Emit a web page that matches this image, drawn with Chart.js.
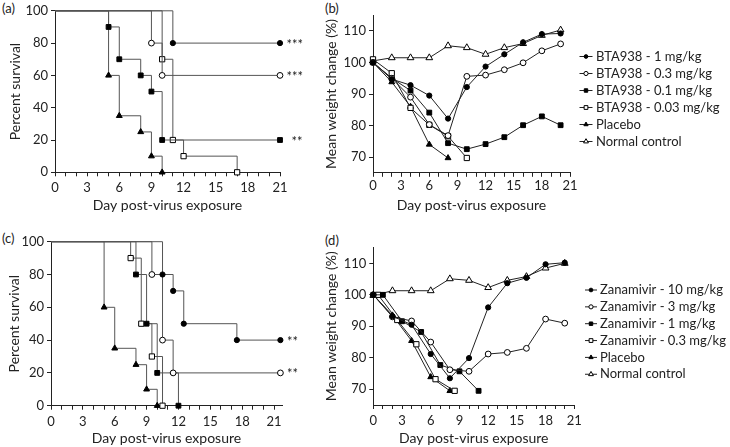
<!DOCTYPE html>
<html>
<head>
<meta charset="utf-8">
<script src="https://cdn.jsdelivr.net/npm/chart.js@4.4.0/dist/chart.umd.min.js"></script>
<style>
  body { margin: 0; background: #fff; }
  #wrap { position: relative; width: 730px; height: 447px; font-family: Lato, sans-serif; color: #222; }
  canvas { position: absolute; }
  .tag { position: absolute; font-size: 13px; line-height: 16px; }
</style>
</head>
<body>
<div id="wrap">
  <div class="tag" style="left:2px;top:0px">(a)</div>
  <div class="tag" style="left:325px;top:0px">(b)</div>
  <div class="tag" style="left:2px;top:230px">(c)</div>
  <div class="tag" style="left:325px;top:232px">(d)</div>
  <canvas id="chart-a" width="318" height="218" style="left:0px;top:0px"></canvas>
  <canvas id="chart-b" width="412" height="218" style="left:318px;top:0px"></canvas>
  <canvas id="chart-c" width="318" height="219" style="left:0px;top:228px"></canvas>
  <canvas id="chart-d" width="412" height="219" style="left:318px;top:228px"></canvas>
</div>
<script>
// ticks
var dayTicks = [0, 1, 2, 3, 4, 5, 6, 7, 8, 9, 10, 11, 12, 13, 14, 15, 16, 17, 18, 19, 20, 21];
var dayLabels = [0, 3, 6, 9, 12, 15, 18, 21];
var pctTicks = [0, 20, 40, 60, 80, 100];
var weightTicks = [70, 80, 90, 100, 110];

// (a) survival, BTA938
var aBta1Days = [0, 11, 21];                 var aBta1Pct = [100, 80, 80];
var aBta03Days = [0, 9, 10, 21];             var aBta03Pct = [100, 80, 60, 60];
var aBta01Days = [0, 5, 6, 8, 9, 10, 21];    var aBta01Pct = [100, 90, 70, 60, 50, 20, 20];
var aBta003Days = [0, 10, 11, 12, 17];       var aBta003Pct = [100, 70, 20, 10, 0];
var aPlaceboDays = [0, 5, 6, 8, 9, 10];      var aPlaceboPct = [100, 60, 35, 25, 10, 0];

// (b) weight, BTA938
var bDays = [0, 2, 4, 6, 8, 10, 12, 14, 16, 18, 20];
var bBta1 = [100, 94.7, 92.8, 89.5, 82.2, 92.2, 98.7, 102.6, 106.4, 109, 109.2];
var bBta03 = [100, 95, 89, 80.3, 76.8, 95.6, 96, 97.7, 99.9, 103.7, 105.9];
var bBta01 = [100, 95, 91.1, 84.1, 74.4, 72.5, 74.1, 76.3, 80.1, 82.9, 80.1];
var bBta003 = [101, 96.6, 85.6, 80.2, 76.6, 69.7];
var bPlacebo = [100, 93.8, 86, 74, 69.7];
var bNormal = [100.5, 101.5, 101.5, 101.5, 105.3, 104.7, 102.6, 104.7, 106, 108.6, 110.3];

// (c) survival, zanamivir
var cZan10Days = [0, 10.5, 11.5, 12.5, 17.5, 21.6]; var cZan10Pct = [100, 80, 70, 50, 40, 40];
var cZan3Days = [0, 9.5, 10.5, 11.5, 21.6];         var cZan3Pct = [100, 80, 40, 20, 20];
var cZan1Days = [0, 8, 9, 10, 12];                  var cZan1Pct = [100, 80, 50, 20, 0];
var cZan03Days = [0, 7.5, 8.5, 9.5, 10.5];          var cZan03Pct = [100, 90, 50, 30, 0];
var cPlaceboDays = [0, 5, 6, 8, 9, 10];             var cPlaceboPct = [100, 60, 35, 25, 10, 0];

// (d) weight, zanamivir
var dDays = [0, 2, 4, 6, 8, 10, 12, 14, 16, 18, 20];
var dZan10 = [100, 93.2, 90.5, 81.2, 73.5, 79.9, 96, 103.7, 105.4, 109.7, 110.2];
var dZan3 = [100, 93, 91.7, 85, 76.2, 75.7, 81.2, 81.7, 83, 92.3, 91];
var dZan1Days = [0, 1, 3, 5, 7, 9, 11];
var dZan1 = [100, 100, 91.6, 88.2, 77.7, 75.7, 69.5];
var dZan03Days = [0.5, 2.5, 4.5, 6.5, 8.5];
var dZan03 = [100, 92, 84.3, 73.2, 69.5];
var dPlaceboDays = [0, 2, 4, 6, 8];
var dPlacebo = [100, 93.5, 85.4, 73.9, 69.5];
var dNormal = [99.8, 101.3, 101.3, 101.3, 105.1, 104.6, 102.3, 104.6, 105.8, 108.5, 110];

Chart.defaults.font.family = 'Lato, sans-serif';
Chart.defaults.font.size = 13;
Chart.defaults.color = '#222';

// marker looks
var MK = {
  fc: { style: 'circle', r: 2.6, fill: '#000' },
  oc: { style: 'circle', r: 2.9, fill: '#fff' },
  fs: { style: 'rect', r: 3.4, fill: '#000' },
  os: { style: 'rect', r: 3.7, fill: '#fff' },
  ft: { style: 'triangle', r: 3.4, fill: '#000' },
  ot: { style: 'triangle', r: 3.9, fill: '#fff' }
};

function pts(xs, ys) {
  return xs.map(function (x, i) { return { x: x, y: ys[i] }; });
}

// Kaplan-Meier step line, no marker on the start point
function km(xs, ys, mk, stars, starsDx) {
  var m = MK[mk];
  return {
    data: pts(xs, ys),
    stepped: 'before',
    borderColor: '#555',
    borderWidth: 1,
    pointStyle: m.style,
    pointRadius: function (ctx) { return ctx.dataIndex === 0 ? 0 : m.r; },
    pointBackgroundColor: m.fill,
    pointBorderColor: '#000',
    pointBorderWidth: 1,
    clip: false,
    stars: stars,
    starsDx: starsDx
  };
}

function wline(label, xs, ys, mk) {
  var m = MK[mk];
  return {
    label: label,
    data: pts(xs, ys),
    borderColor: '#222',
    borderWidth: 1,
    tension: 0,
    pointStyle: m.style,
    pointRadius: m.r,
    pointBackgroundColor: m.fill,
    pointBorderColor: '#000',
    pointBorderWidth: 1,
    clip: false
  };
}

function xScale(max, h, tickPad, titlePad) {
  return {
    type: 'linear', min: 0, max: max,
    afterBuildTicks: function (s) { s.ticks = dayTicks.map(function (v) { return { value: v }; }); },
    afterFit: function (s) { s.height = h; },
    ticks: {
      autoSkip: false, maxRotation: 0, padding: tickPad,
      callback: function (v) { return dayLabels.indexOf(v) >= 0 ? String(v) : ''; }
    },
    grid: { drawOnChartArea: false, tickLength: 4, color: '#222' },
    border: { color: '#222' },
    title: { display: true, text: 'Day post-virus exposure', font: { size: 14 }, padding: { top: 0, bottom: titlePad } }
  };
}

function yScale(min, max, ticks, title, w, titlePad) {
  return {
    type: 'linear', min: min, max: max,
    afterBuildTicks: function (s) { s.ticks = ticks.map(function (v) { return { value: v }; }); },
    afterFit: function (s) { s.width = w; },
    ticks: { padding: 3 },
    grid: { drawOnChartArea: false, tickLength: 4, color: '#222' },
    border: { color: '#222' },
    title: { display: true, text: title, font: { size: 14 }, padding: { top: titlePad, bottom: 0 } }
  };
}

// significance stars after the last point of a curve
var starsPlugin = {
  id: 'stars',
  afterDatasetsDraw: function (chart) {
    var ctx = chart.ctx;
    chart.data.datasets.forEach(function (ds, i) {
      if (!ds.stars) return;
      var els = chart.getDatasetMeta(i).data;
      var p = els[els.length - 1];
      ctx.save();
      ctx.fillStyle = '#222';
      ctx.font = '13px Lato, sans-serif';
      ctx.textBaseline = 'alphabetic';
      ctx.fillText(ds.stars, p.x + ds.starsDx, p.y + 5.5);
      ctx.restore();
    });
  }
};

// legend with line + marker icons beside the plot
var sideLegend = {
  id: 'sideLegend',
  afterDraw: function (chart, args, opts) {
    var ctx = chart.ctx, right = chart.chartArea.right;
    chart.data.datasets.forEach(function (ds, i) {
      var y = opts.top + i * opts.pitch;
      var x0 = right + opts.dx;
      ctx.save();
      ctx.strokeStyle = ds.borderColor;
      ctx.lineWidth = 1;
      ctx.beginPath();
      ctx.moveTo(x0, y);
      ctx.lineTo(x0 + opts.iconW, y);
      ctx.stroke();
      ctx.fillStyle = ds.pointBackgroundColor;
      ctx.strokeStyle = ds.pointBorderColor;
      Chart.helpers.drawPoint(ctx, { pointStyle: ds.pointStyle, radius: ds.pointRadius * 0.72, borderWidth: 1 }, x0 + opts.iconW / 2, y);
      ctx.fillStyle = '#222';
      ctx.font = '13px Lato, sans-serif';
      ctx.textBaseline = 'middle';
      ctx.fillText(ds.label, right + opts.textDx, y);
      ctx.restore();
    });
  }
};

function baseOptions(pad, xs, ys, legendOpts) {
  return {
    responsive: false,
    animation: false,
    layout: { padding: pad },
    plugins: {
      legend: { display: false },
      tooltip: { enabled: false },
      sideLegend: legendOpts || false
    },
    scales: { x: xs, y: ys }
  };
}

// CHART (a)
new Chart(document.getElementById('chart-a'), {
  type: 'line',
  data: {
    datasets: [
      km(aBta1Days, aBta1Pct, 'fc', '***', 6.5),
      km(aBta03Days, aBta03Pct, 'oc', '***', 6.5),
      km(aBta01Days, aBta01Pct, 'fs', '**', 11.5),
      km(aBta003Days, aBta003Pct, 'os'),
      km(aPlaceboDays, aPlaceboPct, 'ft')
    ]
  },
  options: baseOptions({ left: 0, top: 8, right: 38, bottom: 0 },
    xScale(21, 45.7, 4, 4.6),
    yScale(0, 100, pctTicks, 'Percent survival', 55, 7)),
  plugins: [starsPlugin]
});

// CHART (b)
new Chart(document.getElementById('chart-b'), {
  type: 'line',
  data: {
    datasets: [
      wline('BTA938 - 1 mg/kg', bDays, bBta1, 'fc'),
      wline('BTA938 - 0.3 mg/kg', bDays, bBta03, 'oc'),
      wline('BTA938 - 0.1 mg/kg', bDays, bBta01, 'fs'),
      wline('BTA938 - 0.03 mg/kg', bDays, bBta003, 'os'),
      wline('Placebo', bDays, bPlacebo, 'ft'),
      wline('Normal control', bDays, bNormal, 'ot')
    ]
  },
  options: baseOptions({ left: 0, top: 15.2, right: 160, bottom: 0 },
    xScale(21, 45.2, 1, 4.6),
    yScale(65, 115, weightTicks, 'Mean weight change (%)', 55, 4.6),
    { dx: 9.5, iconW: 13, textDx: 26, top: 56.5, pitch: 17 }),
  plugins: [sideLegend]
});

// CHART (c)
new Chart(document.getElementById('chart-c'), {
  type: 'line',
  data: {
    datasets: [
      km(cZan10Days, cZan10Pct, 'fc', '**', 6.5),
      km(cZan3Days, cZan3Pct, 'oc', '**', 6.5),
      km(cZan1Days, cZan1Pct, 'fs'),
      km(cZan03Days, cZan03Pct, 'os'),
      km(cPlaceboDays, cPlaceboPct, 'ft')
    ]
  },
  options: baseOptions({ left: 0, top: 13.7, right: 36, bottom: 0 },
    xScale(21.75, 41.3, 4, 0),
    yScale(0, 100, pctTicks, 'Percent survival', 51, 5.6)),
  plugins: [starsPlugin]
});

// CHART (d)
new Chart(document.getElementById('chart-d'), {
  type: 'line',
  data: {
    datasets: [
      wline('Zanamivir - 10 mg/kg', dDays, dZan10, 'fc'),
      wline('Zanamivir - 3 mg/kg', dDays, dZan3, 'oc'),
      wline('Zanamivir - 1 mg/kg', dZan1Days, dZan1, 'fs'),
      wline('Zanamivir - 0.3 mg/kg', dZan03Days, dZan03, 'os'),
      wline('Placebo', dPlaceboDays, dPlacebo, 'ft'),
      wline('Normal control', dDays, dNormal, 'ot')
    ]
  },
  options: baseOptions({ left: 0, top: 19.6, right: 155.7, bottom: 0 },
    xScale(21, 42, 4.5, 0),
    yScale(65, 115, weightTicks, 'Mean weight change (%)', 55.3, 4.6),
    { dx: 10.7, iconW: 12, textDx: 25.7, top: 62, pitch: 16.85 }),
  plugins: [sideLegend]
});
</script>
</body>
</html>
